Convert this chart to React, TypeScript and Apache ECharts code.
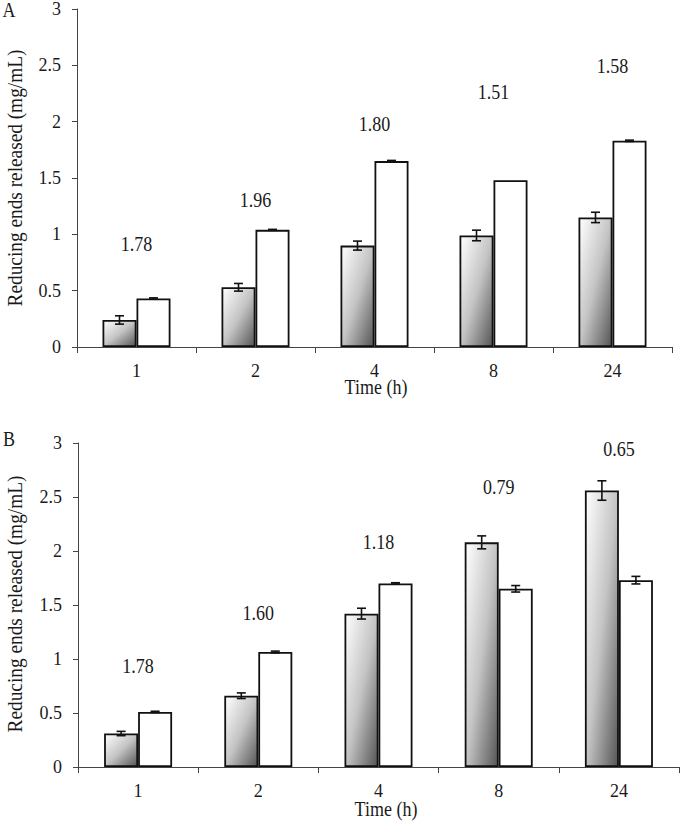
import React, { useEffect, useRef } from "react";
import * as echarts from "echarts";

const categories = ["1", "2", "4", "8", "24"];

const aShaded = [0.24, 0.53, 0.9, 0.99, 1.15];
const aShadedErr = [0.037, 0.034, 0.04, 0.047, 0.046];
const aWhite = [0.43, 1.04, 1.65, 1.48, 1.83];
const aWhiteErr = [0.006, 0.004, 0.006, 0, 0.006];
const aRatios = ["1.78", "1.96", "1.80", "1.51", "1.58"];
const aRatioY = [0.91, 1.3, 1.98, 2.26, 2.49];

const bShaded = [0.31, 0.66, 1.42, 2.08, 2.56];
const bShadedErr = [0.02, 0.026, 0.05, 0.06, 0.09];
const bWhite = [0.51, 1.065, 1.7, 1.65, 1.73];
const bWhiteErr = [0.006, 0.008, 0.006, 0.03, 0.035];
const bRatios = ["1.78", "1.60", "1.18", "0.79", "0.65"];
const bRatioY = [0.93, 1.42, 2.08, 2.59, 2.94];

const yTicks = [0, 0.5, 1, 1.5, 2, 2.5, 3];

const Y_TITLE = "Reducing ends released (mg/mL)";
const X_TITLE = "Time (h)";

const FONT = "Liberation Serif";
const BAR_W = 34;
const TEXT_SY = 1.12;

export default function App() {
  const ref = useRef<HTMLDivElement>(null);

  useEffect(() => {
    if (!ref.current) return;
    const chart = echarts.init(ref.current, null, { renderer: "svg" });

    // measure title to stretch it to the reference length
    const cv = document.createElement("canvas");
    const ctx = cv.getContext("2d");
    let titleScale = 1;
    if (ctx) {
      ctx.font = `18px ${FONT}`;
      const w = ctx.measureText(Y_TITLE).width;
      if (w > 0) titleScale = 257 / w;
    }

    const gradient = new echarts.graphic.LinearGradient(0, 0, 1, 1, [
      { offset: 0, color: "#ffffff" },
      { offset: 0.5, color: "#c4c4c4" },
      { offset: 1, color: "#555555" },
    ]);

    const errSeries = (idx: number, vals: number[], errs: number[], offset: number) => ({
      type: "custom",
      xAxisIndex: idx,
      yAxisIndex: idx,
      z: 5,
      data: vals.map((v, i) => [i, v, errs[i]]),
      renderItem: (params: any, api: any) => {
        const i = api.value(0);
        const v = api.value(1);
        const e = api.value(2);
        if (!e) return { type: "group", children: [] };
        const top = api.coord([i, v + e]);
        const bot = api.coord([i, v - e]);
        const x = top[0] + offset;
        const cap = 4.5;
        const style = { stroke: "#111", lineWidth: 1.6 };
        return {
          type: "group",
          children: [
            { type: "line", shape: { x1: x, y1: top[1], x2: x, y2: bot[1] }, style },
            { type: "line", shape: { x1: x - cap, y1: top[1], x2: x + cap, y2: top[1] }, style },
            { type: "line", shape: { x1: x - cap, y1: bot[1], x2: x + cap, y2: bot[1] }, style },
          ],
        };
      },
    });

    const labelSeries = (idx: number, labels: string[], ys: number[]) => ({
      type: "custom",
      xAxisIndex: idx,
      yAxisIndex: idx,
      z: 6,
      data: ys.map((y, i) => [i, y]),
      renderItem: (params: any, api: any) => {
        const p = api.coord([api.value(0), api.value(1)]);
        return {
          type: "text",
          x: p[0],
          y: p[1],
          scaleY: TEXT_SY,
          style: {
            text: labels[params.dataIndex],
            fontFamily: FONT,
            fontSize: 18,
            fill: "#1a1a1a",
            align: "center",
            verticalAlign: "middle",
          },
        };
      },
    });

    const barSeries = (idx: number, vals: number[], shaded: boolean) => ({
      type: "bar",
      xAxisIndex: idx,
      yAxisIndex: idx,
      data: vals,
      barWidth: BAR_W,
      barGap: "0%",
      itemStyle: {
        color: shaded ? gradient : "#ffffff",
        borderColor: "#111",
        borderWidth: 1.8,
      },
    });

    const xAxis = (idx: number) => ({
      type: "category",
      gridIndex: idx,
      data: categories,
      axisLine: { lineStyle: { color: "#444", width: 1 } },
      axisTick: { show: true, length: 6, lineStyle: { color: "#444" } },
      axisLabel: { fontFamily: FONT, fontSize: 18, color: "#1a1a1a", margin: 15 },
    });

    const yAxis = (idx: number) => ({
      type: "value",
      gridIndex: idx,
      min: yTicks[0],
      max: yTicks[yTicks.length - 1],
      interval: 0.5,
      splitLine: { show: false },
      axisLine: { show: true, lineStyle: { color: "#444", width: 1 } },
      axisTick: { show: true, length: 5, lineStyle: { color: "#444" } },
      axisLabel: { fontFamily: FONT, fontSize: 18, color: "#1a1a1a", margin: 16 },
    });

    const txt = (text: string, x: number, y: number, extra: any = {}) => ({
      type: "text",
      x,
      y,
      ...extra,
      style: {
        text,
        fontFamily: FONT,
        fontSize: 18,
        fill: "#1a1a1a",
        align: "center",
        verticalAlign: "middle",
      },
    });

    chart.setOption({
      animation: false,
      backgroundColor: "#ffffff",
      grid: [
        { left: 77, top: 8, width: 595, height: 339 },
        { left: 78, top: 443, width: 601, height: 324 },
      ],
      xAxis: [xAxis(0), xAxis(1)],
      yAxis: [yAxis(0), yAxis(1)],
      graphic: [
        txt("A", 9, 10, { scaleY: TEXT_SY }),
        txt("B", 9, 439, { scaleY: TEXT_SY }),
        txt(X_TITLE, 376, 387, { scaleY: TEXT_SY }),
        txt(X_TITLE, 386, 809, { scaleY: TEXT_SY }),
        txt(Y_TITLE, 15, 178, { rotation: Math.PI / 2, scaleX: titleScale, scaleY: TEXT_SY }),
        txt(Y_TITLE, 15, 604, { rotation: Math.PI / 2, scaleX: titleScale, scaleY: TEXT_SY }),
      ],
      series: [
        barSeries(0, aShaded, true),
        barSeries(0, aWhite, false),
        errSeries(0, aShaded, aShadedErr, -BAR_W / 2),
        errSeries(0, aWhite, aWhiteErr, BAR_W / 2),
        labelSeries(0, aRatios, aRatioY),
        barSeries(1, bShaded, true),
        barSeries(1, bWhite, false),
        errSeries(1, bShaded, bShadedErr, -BAR_W / 2),
        errSeries(1, bWhite, bWhiteErr, BAR_W / 2),
        labelSeries(1, bRatios, bRatioY),
      ],
    });

    return () => chart.dispose();
  }, []);

  return (
    <div
      ref={ref}
      style={{ position: "absolute", left: 0, top: 0, width: 680, height: 821, background: "#fff" }}
    />
  );
}
